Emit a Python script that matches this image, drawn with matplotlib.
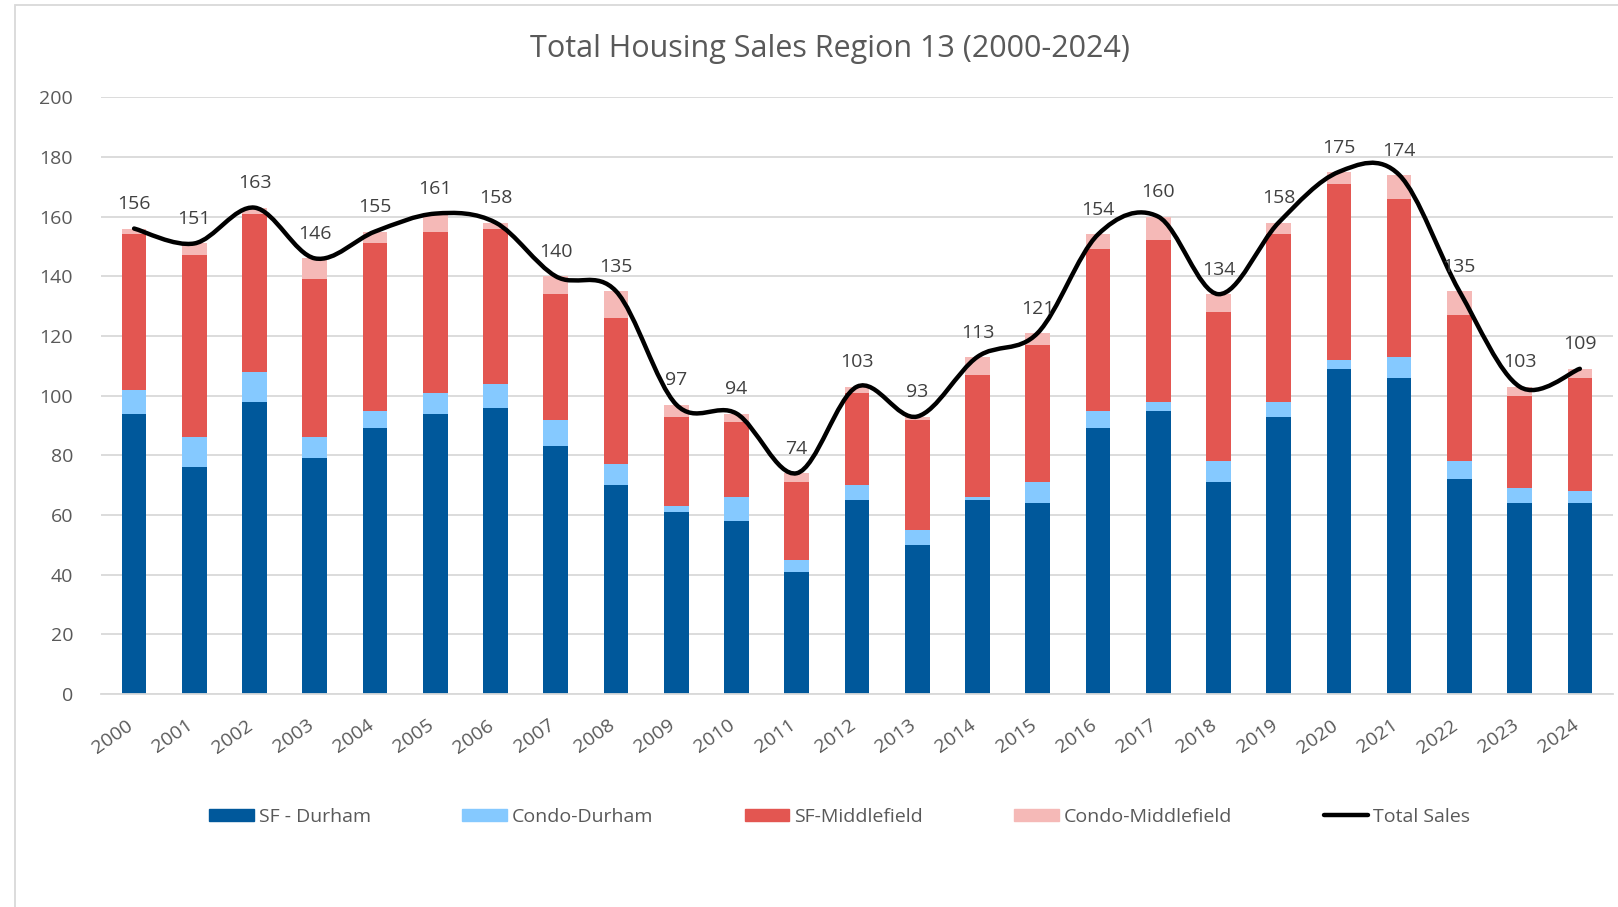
import matplotlib
matplotlib.use("Agg")
from matplotlib import pyplot as plt
from matplotlib.path import Path
from matplotlib.patches import PathPatch, Rectangle
from matplotlib.lines import Line2D
import matplotlib.transforms as mtransforms
import numpy as np

years = [str(y) for y in range(2000, 2025)]
sf_durham = [94, 76, 98, 79, 89, 94, 96, 83, 70, 61, 58, 41, 65, 50, 65, 64, 89, 95, 71, 93, 109, 106, 72, 64, 64]
condo_durham = [8, 10, 10, 7, 6, 7, 8, 9, 7, 2, 8, 4, 5, 5, 1, 7, 6, 3, 7, 5, 3, 7, 6, 5, 4]
sf_middlefield = [52, 61, 53, 53, 56, 54, 52, 42, 49, 30, 25, 26, 31, 37, 41, 46, 54, 54, 50, 56, 59, 53, 49, 31, 38]
condo_middlefield = [2, 4, 2, 7, 4, 6, 2, 6, 9, 4, 3, 3, 2, 1, 6, 4, 5, 8, 6, 4, 4, 8, 8, 3, 3]
total_sales = [156, 151, 163, 146, 155, 161, 158, 140, 135, 97, 94, 74, 103, 93, 113, 121, 154, 160, 134, 158, 175, 174, 135, 103, 109]

plt.rcParams['font.family'] = ['Open Sans', 'DejaVu Sans']
grey = "#595959"

fig = plt.figure(figsize=(16.18, 9.07), dpi=100)
ax = fig.add_axes([0.0624, 0.2348, 0.9345, 0.658])

x = np.arange(len(years))
w = 0.41
c1, c2, c3, c4 = "#00589B", "#85C9FF", "#E35651", "#F5B9B7"
b1 = np.array(sf_durham)
b2 = b1 + np.array(condo_durham)
b3 = b2 + np.array(sf_middlefield)
ax.bar(x, sf_durham, w, color=c1, zorder=2)
ax.bar(x, condo_durham, w, bottom=b1, color=c2, zorder=2)
ax.bar(x, sf_middlefield, w, bottom=b2, color=c3, zorder=2)
ax.bar(x, condo_middlefield, w, bottom=b3, color=c4, zorder=2)

# smoothed total line (excel style bezier through the points)
pts = np.column_stack([x, total_sales]).astype(float)
ext = np.vstack([pts[0], pts, pts[-1]])
verts = [tuple(pts[0])]
codes = [Path.MOVETO]
for i in range(len(pts) - 1):
    p0, p1, p2, p3 = ext[i], ext[i + 1], ext[i + 2], ext[i + 3]
    verts += [tuple(p1 + (p2 - p0) / 6), tuple(p2 - (p3 - p1) / 6), tuple(p2)]
    codes += [Path.CURVE4] * 3
ax.add_patch(PathPatch(Path(verts, codes), facecolor="none", edgecolor="black",
                       lw=3.2, capstyle="round", zorder=3))

for xi, t in zip(x, total_sales):
    ax.annotate(str(t), (xi, t), xytext=(0, 11), textcoords="offset points",
                ha="center", va="bottom", fontsize=14, color="#404040", zorder=4)

ax.set_xlim(-0.55, len(years) - 0.45)
ax.set_ylim(0, 200)
ax.set_yticks(range(0, 201, 20))
ax.set_xticks(x)
ax.set_xticklabels(years, rotation=35, ha="right", rotation_mode="anchor")
ax.tick_params(axis="both", length=0, labelsize=14, labelcolor=grey)
ax.tick_params(axis="y", pad=20)
ax.tick_params(axis="x", pad=16)
shift = mtransforms.ScaledTranslation(-6 / 72, 0, fig.dpi_scale_trans)
for lab in ax.get_xticklabels():
    lab.set_transform(lab.get_transform() + shift)
ax.grid(axis="y", color="#D9D9D9", lw=1.3, zorder=0)
for s in ["top", "right", "left"]:
    ax.spines[s].set_visible(False)
ax.spines["bottom"].set_color("#D9D9D9")
ax.spines["bottom"].set_linewidth(1.3)

fig.text(0.513, 0.946, "Total Housing Sales Region 13 (2000-2024)", ha="center", va="center",
         fontsize=22, color=grey)

handles = [Rectangle((0, 0), 1, 1, color=c1), Rectangle((0, 0), 1, 1, color=c2),
           Rectangle((0, 0), 1, 1, color=c3), Rectangle((0, 0), 1, 1, color=c4),
           Line2D([0], [0], color="black", lw=3.2, solid_capstyle="round")]
labels = ["SF - Durham", "Condo-Durham", "SF-Middlefield", "Condo-Middlefield", "Total Sales"]
fig.legend(handles, labels, loc="center", bbox_to_anchor=(0.519, 1 - 817 / 907), ncol=5,
           frameon=False, fontsize=14, labelcolor=grey, handlelength=2.3, handleheight=0.6,
           handletextpad=0.25, columnspacing=4.7)

# chart border
fig.add_artist(Rectangle((15 / 1618, -0.1), 1.2, 1 - 5 / 907 + 0.1, transform=fig.transFigure,
                         fill=False, edgecolor="#D9D9D9", lw=1.3))

fig.savefig("out.png", dpi=100)
